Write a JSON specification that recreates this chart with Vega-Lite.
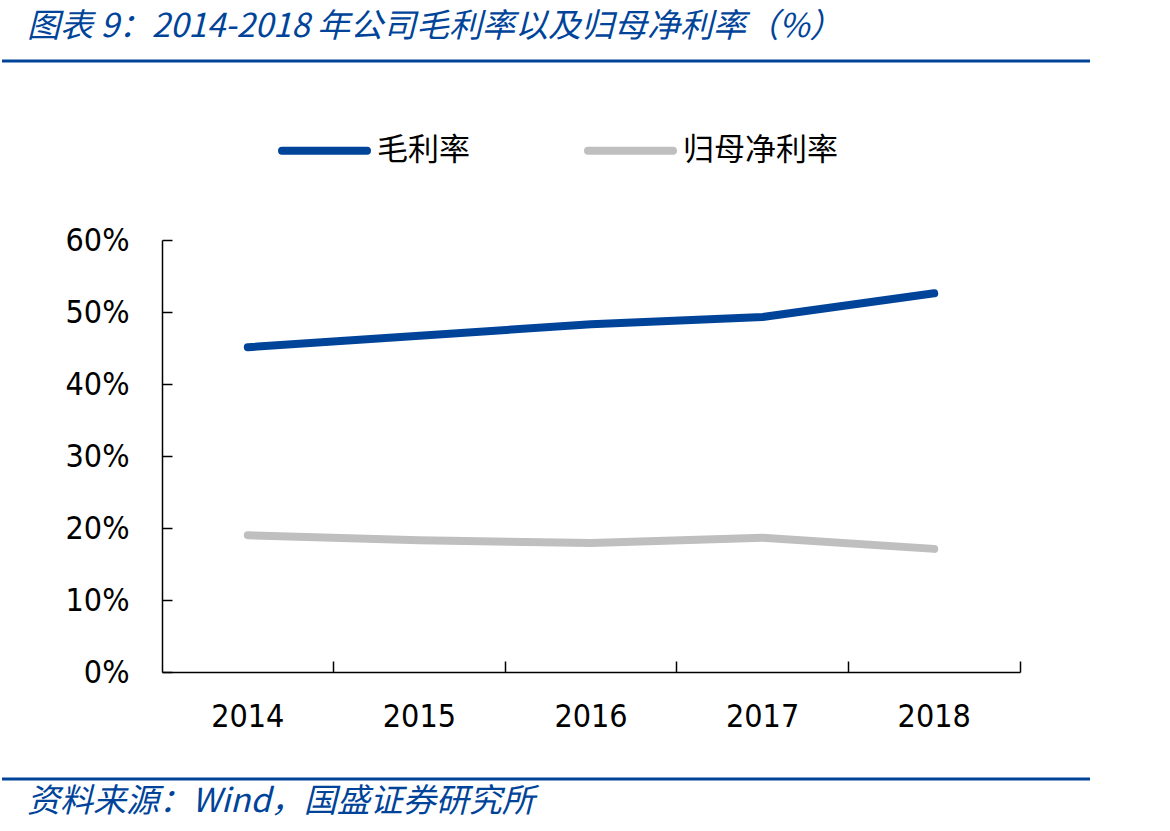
{
  "$schema": "https://vega.github.io/schema/vega-lite/v6.json",
  "background": "white",
  "padding": {"left": 0, "top": 10, "right": 0, "bottom": 15},
  "autosize": {"type": "pad"},
  "spacing": 41,
  "config": {"view": {"stroke": null}},
  "datasets": {
    "deco": [{"k": 1}],
    "margins": [
      {"year": "2014", "series": "毛利率", "value": 45.1},
      {"year": "2015", "series": "毛利率", "value": 46.7},
      {"year": "2016", "series": "毛利率", "value": 48.3},
      {"year": "2017", "series": "毛利率", "value": 49.3},
      {"year": "2018", "series": "毛利率", "value": 52.6},
      {"year": "2014", "series": "归母净利率", "value": 19.0},
      {"year": "2015", "series": "归母净利率", "value": 18.3},
      {"year": "2016", "series": "归母净利率", "value": 17.9},
      {"year": "2017", "series": "归母净利率", "value": 18.65},
      {"year": "2018", "series": "归母净利率", "value": 17.1}
    ]
  },
  "resolve": {"scale": {"color": "independent"}, "legend": {"color": "independent"}},
  "vconcat": [
    {
      "width": 1088,
      "height": 1,
      "data": {"name": "deco"},
      "title": {
        "text": "图表 9：2014-2018 年公司毛利率以及归母净利率（%）",
        "anchor": "start",
        "frame": "group",
        "dx": 25,
        "offset": 16,
        "font": "Noto Sans CJK SC",
        "fontSize": 33,
        "fontStyle": "italic",
        "fontWeight": "normal",
        "color": "#00449A"
      },
      "mark": {"type": "rule", "color": "#00449A", "strokeWidth": 3},
      "encoding": {
        "y": {"datum": 1, "type": "quantitative", "scale": {"domain": [0, 1]}, "axis": null}
      }
    },
    {
      "width": 1088,
      "height": 432,
      "data": {"name": "margins"},
      "mark": {"type": "line", "strokeWidth": 8, "strokeCap": "round", "strokeJoin": "round"},
      "encoding": {
        "x": {
          "field": "year",
          "type": "ordinal",
          "scale": {"type": "band", "paddingInner": 0, "paddingOuter": 0, "range": [160, 1018]},
          "axis": {
            "title": null,
            "bandPosition": 1,
            "labelAngle": 0,
            "labelFont": "DejaVu Sans Condensed",
            "labelFontSize": 32,
            "labelColor": "#000000",
            "labelBaseline": "middle",
            "labelPadding": 55,
            "tickSize": -11,
            "tickColor": "#000000",
            "tickWidth": 1.5,
            "domainColor": "#000000",
            "domainWidth": 1.5,
            "grid": false
          }
        },
        "y": {
          "field": "value",
          "type": "quantitative",
          "scale": {"domain": [0, 60], "nice": false},
          "axis": {
            "title": null,
            "offset": -160,
            "values": [0, 10, 20, 30, 40, 50, 60],
            "labelExpr": "datum.value + '%'",
            "labelFont": "DejaVu Sans Condensed",
            "labelFontSize": 32,
            "labelColor": "#000000",
            "labelPadding": 43,
            "tickSize": -10,
            "tickColor": "#000000",
            "tickWidth": 1.5,
            "domainColor": "#000000",
            "domainWidth": 1.5,
            "grid": false
          }
        },
        "color": {
          "field": "series",
          "type": "nominal",
          "sort": ["毛利率", "归母净利率"],
          "scale": {"domain": ["毛利率", "归母净利率"], "range": ["#00449A", "#BFBFBF"]},
          "legend": {
            "title": null,
            "orient": "none",
            "direction": "horizontal",
            "legendX": 276,
            "legendY": -136,
            "padding": 0,
            "symbolType": "stroke",
            "symbolSize": 7225,
            "symbolStrokeWidth": 8,
            "labelFont": "Noto Sans CJK SC",
            "labelFontSize": 31,
            "labelColor": "#000000",
            "labelOffset": 6,
            "columnPadding": 102,
            "encode": {"symbols": {"update": {"strokeCap": {"value": "round"}}}}
          }
        }
      }
    },
    {
      "width": 1088,
      "height": 6,
      "data": {"name": "deco"},
      "title": {
        "text": "资料来源：Wind，国盛证券研究所",
        "orient": "bottom",
        "anchor": "start",
        "frame": "group",
        "dx": 25,
        "offset": 5,
        "font": "Noto Sans CJK SC",
        "fontSize": 33,
        "fontStyle": "italic",
        "fontWeight": "normal",
        "color": "#00449A"
      },
      "mark": {"type": "rule", "color": "#00449A", "strokeWidth": 3},
      "encoding": {
        "y": {"datum": 0, "type": "quantitative", "scale": {"domain": [0, 1]}, "axis": null}
      }
    }
  ]
}
